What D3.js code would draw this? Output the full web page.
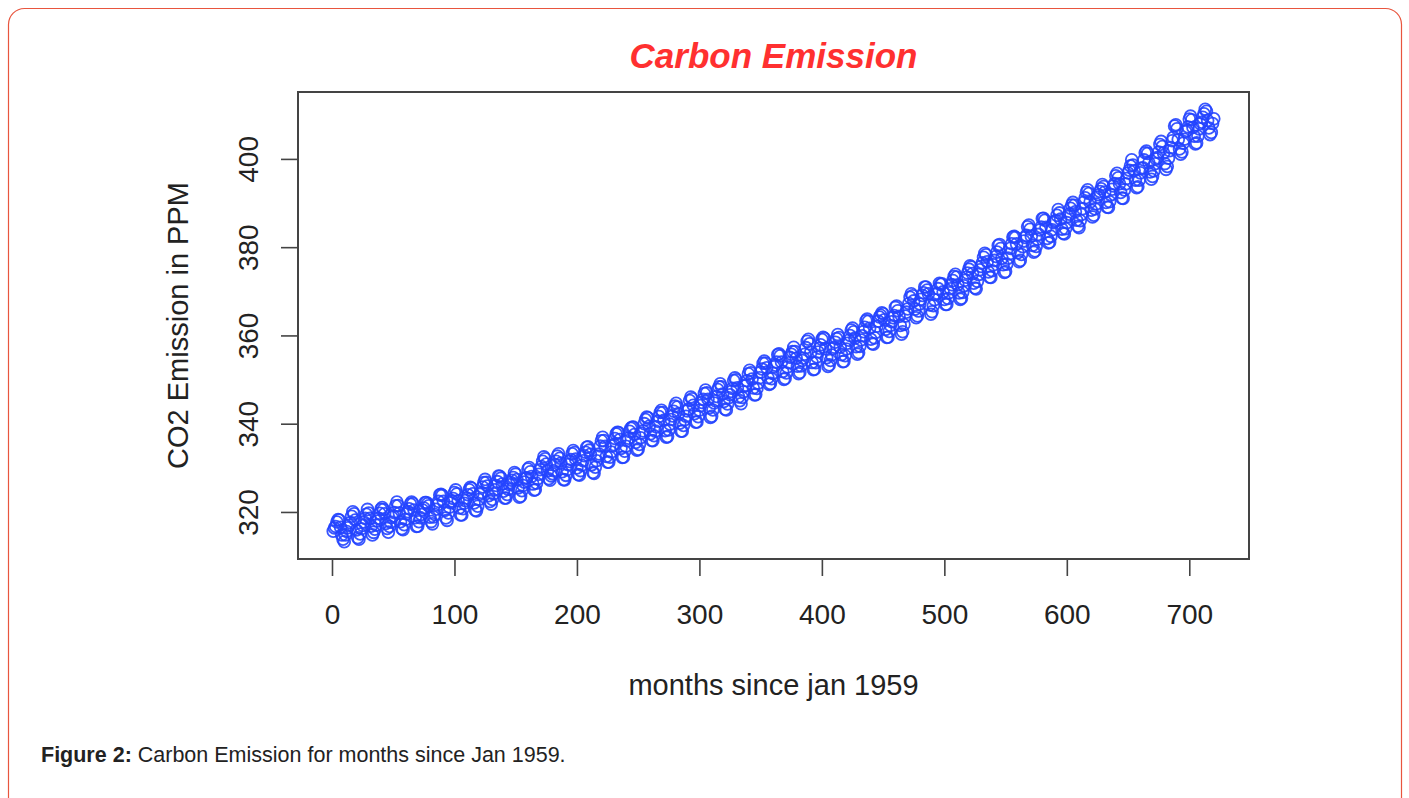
<!DOCTYPE html>
<html>
  <head>
    <meta charset="utf-8">
    <script src="https://d3js.org/d3.v7.min.js"></script>
    <title>Carbon Emission</title>
    <style>
      body {
        margin: 0px;
        background: #fff;
      }
      text {
        font-family: "Liberation Sans", Arial, sans-serif;
      }
      .tick text {
        fill: #222;
        font-size: 28px;
      }
      .tick line, .domain {
        stroke: #444;
        stroke-width: 1.6;
      }
      .axis-label {
        fill: #222;
        font-size: 29px;
      }
    </style>
  </head>
  <body>
    <div id="viz1"></div>
    <script>
      // monthly CO2 (ppm), one row per year, Jan 1959 .. Dec 2018
      const co2 = [
        315.62, 316.38, 316.71, 317.72, 318.29, 318.15, 316.54, 314.80, 313.84, 313.26, 314.80, 315.58, // 1959
        316.43, 316.97, 317.58, 319.02, 320.03, 319.59, 318.18, 315.91, 314.16, 313.83, 315.00, 316.19, // 1960
        316.93, 317.70, 318.54, 319.48, 320.58, 319.77, 318.57, 316.79, 314.80, 315.38, 316.10, 317.01, // 1961
        317.94, 318.56, 319.68, 320.63, 321.01, 320.55, 319.58, 317.40, 316.26, 315.42, 316.69, 317.69, // 1962
        318.74, 319.08, 319.86, 321.39, 322.25, 321.47, 319.74, 317.77, 316.21, 315.99, 317.12, 318.31, // 1963
        319.57, 320.07, 320.73, 321.77, 322.25, 321.89, 320.44, 318.70, 316.70, 316.79, 317.79, 318.71, // 1964
        319.44, 320.44, 320.89, 322.13, 322.16, 321.87, 321.39, 318.81, 317.81, 317.30, 318.87, 319.42, // 1965
        320.62, 321.59, 322.39, 323.87, 324.01, 323.75, 322.39, 320.37, 318.64, 318.10, 319.79, 321.08, // 1966
        322.07, 322.50, 323.04, 324.42, 325.00, 324.09, 322.55, 320.92, 319.31, 319.31, 320.72, 321.96, // 1967
        322.57, 323.15, 323.89, 325.02, 325.57, 325.36, 324.14, 322.03, 320.41, 320.25, 321.31, 322.84, // 1968
        324.00, 324.42, 325.64, 326.66, 327.38, 326.70, 325.89, 323.67, 322.38, 321.78, 322.85, 324.11, // 1969
        325.03, 325.99, 326.87, 328.13, 328.07, 327.66, 326.35, 324.69, 323.10, 323.16, 323.98, 325.13, // 1970
        326.17, 326.68, 327.18, 327.78, 328.92, 328.57, 327.34, 325.46, 323.36, 323.57, 324.80, 326.01, // 1971
        326.77, 327.63, 327.75, 329.72, 330.07, 329.09, 328.05, 326.32, 324.93, 325.06, 326.50, 327.55, // 1972
        328.54, 329.56, 330.30, 331.50, 332.48, 332.07, 330.87, 329.31, 327.51, 327.18, 328.16, 328.64, // 1973
        329.35, 330.71, 331.48, 332.65, 333.20, 332.16, 331.07, 329.12, 327.32, 327.28, 328.30, 329.58, // 1974
        330.73, 331.46, 331.90, 333.17, 333.94, 333.45, 331.97, 329.95, 328.50, 328.34, 329.37, 330.58, // 1975
        331.59, 332.75, 333.52, 334.64, 334.77, 334.00, 333.06, 330.68, 328.95, 328.75, 330.15, 331.62, // 1976
        332.66, 333.13, 334.95, 336.13, 336.93, 336.17, 334.88, 332.56, 331.29, 331.27, 332.41, 333.60, // 1977
        334.95, 335.25, 336.66, 337.69, 338.03, 338.01, 336.41, 334.41, 332.37, 332.41, 333.75, 334.90, // 1978
        336.14, 336.69, 338.27, 338.96, 339.21, 339.26, 337.54, 335.75, 333.98, 334.19, 335.31, 336.81, // 1979
        337.90, 338.34, 340.01, 340.93, 341.48, 341.33, 339.40, 337.70, 336.19, 336.15, 337.27, 338.32, // 1980
        339.29, 340.55, 341.61, 342.53, 343.03, 342.54, 340.78, 338.44, 336.95, 337.08, 338.58, 339.88, // 1981
        340.96, 341.73, 342.81, 343.97, 344.63, 343.79, 342.32, 340.09, 338.28, 338.29, 339.60, 340.90, // 1982
        341.68, 342.90, 343.33, 345.25, 346.03, 345.63, 344.19, 342.27, 340.35, 340.38, 341.59, 343.05, // 1983
        344.10, 344.79, 345.52, 346.84, 347.63, 346.98, 345.53, 343.55, 341.40, 341.67, 343.10, 344.70, // 1984
        345.21, 346.16, 347.74, 348.34, 349.06, 348.38, 346.72, 345.02, 343.27, 343.13, 344.49, 345.88, // 1985
        346.56, 347.28, 348.01, 349.77, 350.38, 349.93, 348.16, 346.08, 345.22, 344.51, 345.93, 347.22, // 1986
        348.52, 348.73, 349.73, 351.31, 352.09, 351.53, 350.11, 348.08, 346.52, 346.59, 347.96, 349.16, // 1987
        350.39, 351.64, 352.41, 353.69, 354.21, 353.72, 352.69, 350.40, 348.92, 349.13, 350.20, 351.41, // 1988
        352.91, 353.27, 353.96, 355.64, 355.86, 355.37, 353.99, 351.81, 350.05, 350.25, 351.49, 352.85, // 1989
        353.80, 355.04, 355.73, 356.32, 357.32, 356.34, 354.84, 353.01, 351.31, 351.62, 353.07, 354.33, // 1990
        354.84, 355.73, 357.23, 358.66, 359.13, 358.13, 356.19, 353.85, 352.25, 352.35, 353.81, 355.12, // 1991
        356.25, 357.11, 357.86, 359.09, 359.59, 359.33, 357.01, 354.94, 352.96, 353.32, 354.32, 355.57, // 1992
        357.00, 357.31, 358.47, 359.27, 360.19, 359.52, 357.33, 355.64, 354.03, 354.12, 355.41, 356.91, // 1993
        358.24, 358.92, 359.99, 361.23, 361.65, 360.81, 359.38, 357.46, 355.73, 356.08, 357.53, 358.98, // 1994
        359.92, 360.86, 361.83, 363.30, 363.69, 363.19, 361.64, 359.12, 358.17, 357.99, 359.45, 360.68, // 1995
        362.07, 363.24, 364.17, 364.57, 365.13, 364.92, 363.55, 361.38, 359.54, 359.58, 360.89, 362.24, // 1996
        363.09, 364.03, 364.51, 366.35, 366.64, 365.59, 364.31, 362.25, 360.29, 360.82, 362.49, 364.38, // 1997
        365.27, 365.98, 367.24, 368.66, 369.42, 368.99, 367.82, 365.95, 364.02, 364.40, 365.52, 367.13, // 1998
        368.18, 369.07, 369.68, 370.99, 370.96, 370.30, 369.45, 366.90, 364.81, 365.37, 366.72, 368.10, // 1999
        369.29, 369.54, 370.60, 371.82, 371.58, 371.70, 369.86, 368.13, 367.00, 367.03, 368.37, 369.67, // 2000
        370.59, 371.51, 372.43, 373.37, 373.85, 373.22, 371.50, 369.61, 368.18, 368.45, 369.76, 371.24, // 2001
        372.53, 373.20, 374.12, 375.02, 375.76, 375.52, 374.01, 371.85, 370.75, 370.55, 372.25, 373.79, // 2002
        374.88, 375.64, 376.45, 377.73, 378.60, 378.28, 376.70, 374.38, 373.17, 373.15, 374.66, 375.99, // 2003
        377.00, 377.87, 378.88, 380.35, 380.62, 379.69, 377.47, 376.01, 374.25, 374.46, 376.16, 377.51, // 2004
        378.46, 379.73, 380.77, 382.29, 382.45, 382.21, 380.74, 378.74, 376.70, 377.00, 378.35, 380.11, // 2005
        381.38, 382.19, 382.67, 384.61, 385.03, 384.05, 382.46, 380.41, 378.85, 379.13, 380.15, 381.82, // 2006
        382.89, 383.90, 384.58, 386.50, 386.56, 386.10, 384.50, 381.99, 380.96, 381.12, 382.45, 383.95, // 2007
        385.52, 385.82, 386.03, 387.21, 388.54, 387.76, 386.36, 384.09, 383.18, 382.99, 384.19, 385.56, // 2008
        386.94, 387.48, 388.82, 389.55, 390.14, 389.48, 388.03, 386.11, 384.74, 384.43, 386.02, 387.42, // 2009
        388.71, 390.20, 391.17, 392.46, 393.00, 392.15, 390.20, 388.35, 386.85, 387.24, 388.67, 389.79, // 2010
        391.33, 391.86, 392.60, 393.25, 394.19, 393.74, 392.51, 390.13, 389.08, 389.00, 390.28, 391.86, // 2011
        393.12, 393.86, 394.40, 396.18, 396.74, 395.71, 394.36, 392.39, 391.11, 391.05, 392.98, 394.34, // 2012
        395.55, 396.80, 397.43, 398.41, 399.78, 398.60, 397.32, 395.20, 393.45, 393.70, 395.16, 396.84, // 2013
        397.85, 398.01, 399.77, 401.38, 401.78, 401.25, 399.10, 397.03, 395.38, 396.03, 397.28, 398.91, // 2014
        399.98, 400.28, 401.54, 403.28, 403.96, 402.80, 401.31, 398.93, 397.63, 398.29, 400.16, 401.85, // 2015
        402.56, 404.12, 404.87, 407.45, 407.72, 406.83, 404.41, 402.27, 401.05, 401.59, 403.55, 404.45, // 2016
        406.17, 406.46, 407.22, 409.04, 409.69, 408.88, 407.12, 405.13, 403.37, 403.63, 405.12, 406.81, // 2017
        407.96, 408.32, 409.41, 410.24, 411.24, 410.79, 408.71, 406.99, 405.51, 406.00, 408.02, 409.07  // 2018
      ];

      const xTicks = [0, 100, 200, 300, 400, 500, 600, 700];
      const yTicks = [320, 340, 360, 380, 400];

      const titleText = 'Carbon Emission';
      const xLabel = 'months since jan 1959';
      const yLabel = 'CO2 Emission in PPM';

      const width = 1409;
      const height = 798;
      const plot = { left: 298, right: 1249, top: 92, bottom: 559 };

      const data = co2.map((v, i) => ({ month: i + 1, ppm: v }));

      const svg = d3.select('#viz1').append('svg')
        .attr('width', width)
        .attr('height', height);

      // outer figure frame
      svg.append('rect')
        .attr('x', 8.5).attr('y', 8.5)
        .attr('width', 1393).attr('height', 820)
        .attr('rx', 16)
        .attr('fill', 'none')
        .attr('stroke', '#e8553e')
        .attr('stroke-width', 1.2);

      // R style 4% padding on both scales
      const pad = ext => { const p = (ext[1] - ext[0]) * 0.04; return [ext[0] - p, ext[1] + p]; };

      const xScale = d3.scaleLinear()
        .domain(pad(d3.extent(data, d => d.month)))
        .range([plot.left, plot.right]);
      const yScale = d3.scaleLinear()
        .domain(pad(d3.extent(data, d => d.ppm)))
        .range([plot.bottom, plot.top]);

      const xAxis = d3.axisBottom(xScale)
        .tickValues(xTicks)
        .tickSize(17)
        .tickSizeOuter(0)
        .tickPadding(28);
      const yAxis = d3.axisLeft(yScale)
        .tickValues(yTicks)
        .tickSize(17)
        .tickSizeOuter(0);

      svg.append('g')
        .attr('transform', `translate(0,${plot.bottom})`)
        .call(xAxis)
        .call(g => g.select('.domain').remove());

      svg.append('g')
        .attr('transform', `translate(${plot.left},0)`)
        .call(yAxis)
        .call(g => g.select('.domain').remove())
        .selectAll('.tick text')
          .attr('transform', 'rotate(-90)')
          .attr('x', 0)
          .attr('y', -40)
          .attr('dy', 0)
          .style('text-anchor', 'middle');

      // points
      svg.append('g').selectAll('circle').data(data)
        .enter().append('circle')
          .attr('cx', d => xScale(d.month))
          .attr('cy', d => yScale(d.ppm))
          .attr('r', 5.9)
          .attr('fill', 'none')
          .attr('stroke', '#2444ff')
          .attr('stroke-opacity', 0.9)
          .attr('stroke-width', 1.8);

      // box around plot
      svg.append('rect')
        .attr('x', plot.left).attr('y', plot.top)
        .attr('width', plot.right - plot.left)
        .attr('height', plot.bottom - plot.top)
        .attr('fill', 'none')
        .attr('stroke', '#444')
        .attr('stroke-width', 2);

      const cx = (plot.left + plot.right) / 2;

      svg.append('text')
        .attr('x', cx)
        .attr('y', 68)
        .attr('text-anchor', 'middle')
        .style('font-size', '35px')
        .style('font-weight', 'bold')
        .style('font-style', 'italic')
        .style('fill', '#ff3030')
        .text(titleText);

      svg.append('text')
        .attr('class', 'axis-label')
        .attr('x', cx)
        .attr('y', 695)
        .attr('text-anchor', 'middle')
        .text(xLabel);

      svg.append('text')
        .attr('class', 'axis-label')
        .attr('transform', `translate(188,${(plot.top + plot.bottom) / 2}) rotate(-90)`)
        .attr('text-anchor', 'middle')
        .text(yLabel);

      // caption
      const cap = svg.append('text')
        .attr('x', 41)
        .attr('y', 762)
        .style('font-size', '21.5px')
        .style('fill', '#222');
      cap.append('tspan').style('font-weight', 'bold').text('Figure 2:');
      cap.append('tspan').text(' Carbon Emission for months since Jan 1959.');
    </script>
  </body>
</html>
